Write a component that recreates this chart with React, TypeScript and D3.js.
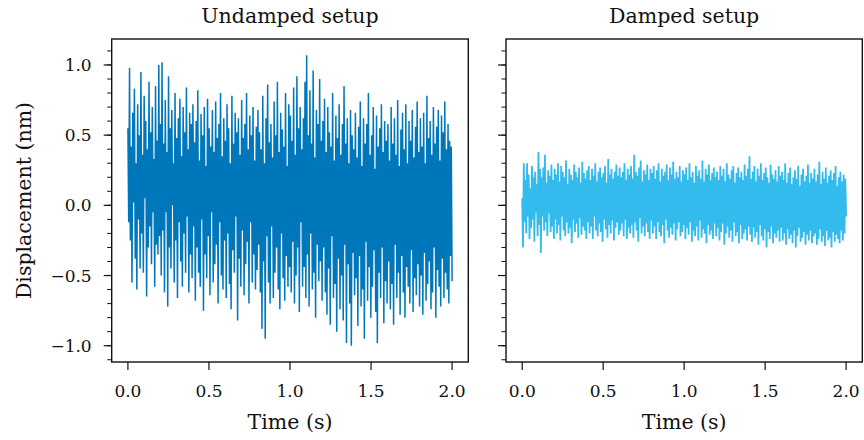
import React from 'react';
import * as d3 from 'd3';

// displacement traces (nm), sampled evenly over 0–2 s
const undamped = [
  0.55, -0.12, 0.98, -0.25, 0.42, -0.55, 0.66, 0.02, 0.83, -0.38, 0.30, -0.60, 0.72, -0.10, 0.50, -0.45, 0.95, -0.20, 0.36, -0.48, 0.78, 0.05, 0.60, -0.65, 0.40, -0.30, 0.88, -0.15, 0.52, -0.42, 0.70, -0.05, 0.33, -0.58, 0.85, -0.28, 0.46, -0.35, 1.00, -0.22,
  0.58, -0.50, 1.02, -0.18, 0.44, -0.62, 0.75, -0.05, 0.38, -0.72, 0.92, -0.30, 0.55, -0.45, 0.68, 0.00, 0.30, -0.55, 0.80, -0.25, 0.48, -0.66, 0.62, -0.12, 0.76, -0.40, 0.35, -0.58, 0.70, -0.20, 0.52, -0.48, 0.84, -0.08, 0.40, -0.62, 0.66, -0.35, 0.58, -0.52,
  0.72, -0.15, 0.45, -0.68, 0.60, -0.30, 0.82, -0.48, 0.32, -0.58, 0.65, -0.10, 0.50, -0.75, 0.70, -0.35, 0.28, -0.52, 0.76, -0.22, 0.55, -0.64, 0.42, -0.05, 0.68, -0.55, 0.38, -0.42, 0.74, -0.28, 0.48, -0.70, 0.58, -0.12, 0.80, -0.50, 0.35, -0.60, 0.62, -0.25,
  0.46, -0.66, 0.72, -0.20, 0.55, -0.56, 0.30, -0.74, 0.78, -0.32, 0.44, -0.48, 0.66, -0.08, 0.52, -0.82, 0.62, -0.38, 0.36, -0.58, 0.75, -0.18, 0.48, -0.64, 0.58, -0.42, 0.80, -0.26, 0.40, -0.70, 0.64, -0.12, 0.50, -0.55, 0.70, -0.35, 0.32, -0.60, 0.56, -0.46,
  0.68, -0.28, 0.52, -0.62, 0.40, -0.88, 0.78, -0.40, 0.30, -0.95, 0.62, -0.22, 0.86, -0.55, 0.45, -0.70, 0.58, -0.15, 0.34, -0.66, 0.74, -0.48, 0.50, -0.30, 0.88, -0.60, 0.38, -0.74, 0.66, -0.20, 0.54, -0.52, 0.42, -0.68, 0.80, -0.36, 0.28, -0.58, 0.72, -0.44,
  0.64, -0.62, 0.46, -0.26, 0.84, -0.70, 0.36, -0.50, 0.92, -0.30, 0.55, -0.76, 0.70, -0.12, 0.40, -0.58, 0.62, -0.44, 0.88, -0.66, 1.07, -0.35, 0.50, -0.72, 0.82, -0.20, 0.44, -0.60, 0.96, -0.48, 0.34, -0.80, 0.68, -0.28, 0.58, -0.54, 0.90, -0.40, 0.46, -0.68,
  0.60, -0.30, 0.76, -0.62, 0.38, -0.78, 0.70, -0.45, 0.52, -0.85, 0.42, -0.22, 0.80, -0.66, 0.32, -0.56, 0.64, -0.90, 0.48, -0.38, 0.72, -0.74, 0.36, -0.50, 0.58, -0.82, 0.85, -0.28, 0.44, -0.98, 0.62, -0.42, 0.30, -0.70, 0.68, -1.00, 0.50, -0.34, 0.40, -0.64,
  0.66, -0.52, 0.34, -0.86, 0.56, -0.36, 0.74, -0.72, 0.28, -0.60, 0.62, -0.95, 0.44, -0.26, 0.58, -0.68, 0.80, -0.44, 0.36, -0.80, 0.50, -0.58, 0.70, -0.32, 0.26, -0.76, 0.64, -0.98, 0.42, -0.48, 0.55, -0.66, 0.72, -0.30, 0.38, -0.84, 0.60, -0.54, 0.46, -0.70,
  0.58, -0.40, 0.32, -0.74, 0.70, -0.56, 0.44, -0.85, 0.62, -0.28, 0.36, -0.66, 0.75, -0.48, 0.28, -0.78, 0.54, -0.36, 0.66, -0.62, 0.40, -0.80, 0.72, -0.44, 0.30, -0.58, 0.60, -0.70, 0.46, -0.32, 0.68, -0.76, 0.34, -0.52, 0.56, -0.64, 0.74, -0.42, 0.38, -0.72,
  0.62, -0.50, 0.42, -0.78, 0.66, -0.34, 0.30, -0.68, 0.78, -0.56, 0.48, -0.40, 0.60, -0.74, 0.36, -0.62, 0.70, -0.30, 0.44, -0.80, 0.56, -0.46, 0.68, -0.58, 0.32, -0.72, 0.64, -0.38, 0.52, -0.66, 0.74, -0.48, 0.40, -0.60, 0.58, -0.70, 0.46, -0.36, 0.42, -0.54,
];

const damped = [
  0.05, -0.30, 0.30, -0.12, 0.18, -0.20, 0.30, -0.08, 0.22, -0.24, 0.12, -0.16, 0.28, -0.10, 0.20, -0.26, 0.24, -0.05, 0.15, -0.22, 0.38, -0.14, 0.26, -0.34, 0.20, -0.08, 0.27, -0.18, 0.36, -0.12, 0.16, -0.22, 0.25, -0.06, 0.21, -0.19, 0.29, -0.15, 0.18, -0.24,
  0.26, -0.10, 0.22, -0.20, 0.30, -0.14, 0.17, -0.25, 0.28, -0.08, 0.24, -0.18, 0.20, -0.22, 0.32, -0.12, 0.15, -0.20, 0.26, -0.16, 0.22, -0.27, 0.18, -0.10, 0.29, -0.19, 0.24, -0.13, 0.20, -0.23, 0.27, -0.09, 0.16, -0.21, 0.31, -0.15, 0.23, -0.18, 0.19, -0.24,
  0.25, -0.12, 0.28, -0.20, 0.18, -0.15, 0.26, -0.24, 0.21, -0.08, 0.30, -0.18, 0.17, -0.22, 0.24, -0.13, 0.27, -0.19, 0.20, -0.26, 0.23, -0.10, 0.28, -0.17, 0.16, -0.23, 0.33, -0.14, 0.22, -0.20, 0.26, -0.11, 0.19, -0.25, 0.24, -0.16, 0.29, -0.12, 0.21, -0.21,
  0.27, -0.18, 0.20, -0.13, 0.24, -0.22, 0.30, -0.10, 0.18, -0.24, 0.26, -0.16, 0.22, -0.20, 0.28, -0.14, 0.19, -0.23, 0.36, -0.12, 0.24, -0.18, 0.21, -0.26, 0.27, -0.09, 0.32, -0.20, 0.17, -0.15, 0.25, -0.22, 0.22, -0.13, 0.29, -0.19, 0.18, -0.24, 0.26, -0.11,
  0.23, -0.20, 0.28, -0.15, 0.19, -0.24, 0.25, -0.12, 0.30, -0.19, 0.17, -0.22, 0.26, -0.14, 0.21, -0.27, 0.24, -0.10, 0.29, -0.18, 0.18, -0.23, 0.27, -0.16, 0.22, -0.21, 0.31, -0.13, 0.19, -0.25, 0.24, -0.17, 0.20, -0.12, 0.28, -0.22, 0.17, -0.19, 0.25, -0.14,
  0.22, -0.24, 0.27, -0.16, 0.18, -0.21, 0.30, -0.12, 0.20, -0.26, 0.24, -0.18, 0.16, -0.22, 0.28, -0.15, 0.21, -0.25, 0.25, -0.11, 0.19, -0.23, 0.32, -0.17, 0.17, -0.20, 0.26, -0.27, 0.22, -0.14, 0.29, -0.21, 0.18, -0.18, 0.23, -0.24, 0.27, -0.13, 0.20, -0.22,
  0.24, -0.16, 0.18, -0.25, 0.28, -0.19, 0.21, -0.13, 0.26, -0.28, 0.17, -0.20, 0.30, -0.15, 0.22, -0.23, 0.19, -0.18, 0.25, -0.26, 0.28, -0.12, 0.16, -0.22, 0.23, -0.19, 0.27, -0.27, 0.20, -0.14, 0.24, -0.24, 0.18, -0.20, 0.29, -0.17, 0.21, -0.25, 0.26, -0.15,
  0.35, -0.21, 0.19, -0.26, 0.24, -0.16, 0.28, -0.23, 0.17, -0.19, 0.26, -0.28, 0.21, -0.14, 0.30, -0.22, 0.18, -0.25, 0.23, -0.17, 0.27, -0.30, 0.20, -0.19, 0.16, -0.24, 0.29, -0.15, 0.22, -0.27, 0.19, -0.20, 0.25, -0.23, 0.17, -0.18, 0.28, -0.26, 0.21, -0.16,
  0.24, -0.25, 0.18, -0.20, 0.30, -0.28, 0.16, -0.17, 0.23, -0.24, 0.27, -0.21, 0.15, -0.27, 0.20, -0.18, 0.25, -0.30, 0.19, -0.22, 0.28, -0.16, 0.14, -0.26, 0.22, -0.23, 0.26, -0.19, 0.17, -0.28, 0.21, -0.21, 0.29, -0.25, 0.16, -0.18, 0.23, -0.27, 0.19, -0.22,
  0.26, -0.20, 0.17, -0.28, 0.22, -0.24, 0.31, -0.17, 0.15, -0.26, 0.24, -0.22, 0.19, -0.29, 0.27, -0.18, 0.16, -0.25, 0.21, -0.23, 0.25, -0.30, 0.18, -0.19, 0.23, -0.26, 0.28, -0.21, 0.14, -0.24, 0.20, -0.27, 0.24, -0.18, 0.17, -0.25, 0.22, -0.20, 0.19, -0.08,
];

const duration = 2.0;
const xTicks = [0, 0.5, 1.0, 1.5, 2.0];
const yTicks = [-1.0, -0.5, 0.0, 0.5, 1.0];
const yMinor = d3.range(-11, 12).map(d => d / 10);
const titles = ['Undamped setup', 'Damped setup'];

const font = '"DejaVu Serif", serif';
const top = 39;
const bottom = 362;

const fmt = (v: number) => d3.format('.1f')(v).replace('-', '\u2212');

function Panel({ x0, x1, values, color, title, labels, lw }: {
  x0: number; x1: number; values: number[]; color: string; title: string; labels: boolean; lw: number;
}) {
  const x = d3.scaleLinear().domain([-0.1, 2.1]).range([x0, x1]);
  const y = d3.scaleLinear().domain([-1.116, 1.185]).range([bottom, top]);
  const dt = duration / (values.length - 1);
  const line = d3.line<number>()
    .x((_, i) => x(i * dt))
    .y(d => y(d));

  return (
    <g>
      <path d={line(values) ?? ''} fill="none" stroke={color} strokeWidth={lw} strokeLinejoin="bevel" />
      <rect x={x0} y={top} width={x1 - x0} height={bottom - top} fill="none" stroke="#111" strokeWidth={1.4} />
      {yMinor.map(t => (
        <line key={'m' + t} x1={x0} x2={x0 - 4.5} y1={y(t)} y2={y(t)} stroke="#111" strokeWidth={1} />
      ))}
      {yTicks.map(t => (
        <g key={'y' + t}>
          <line x1={x0} x2={x0 - 8} y1={y(t)} y2={y(t)} stroke="#111" strokeWidth={1.2} />
          {labels && (
            <text x={x0 - 20} y={y(t)} dy="0.36em" textAnchor="end" fontSize={17} fontFamily={font} fill="#111">
              {fmt(t)}
            </text>
          )}
        </g>
      ))}
      {xTicks.map(t => (
        <g key={'x' + t}>
          <line x1={x(t)} x2={x(t)} y1={bottom} y2={bottom + 8} stroke="#111" strokeWidth={1.2} />
          <text x={x(t)} y={396.5} textAnchor="middle" fontSize={17} fontFamily={font} fill="#111">
            {fmt(t)}
          </text>
        </g>
      ))}
      <text x={(x0 + x1) / 2} y={22.7} textAnchor="middle" fontSize={20.5} fontFamily={font} fill="#111">
        {title}
      </text>
      <text x={(x0 + x1) / 2} y={429} textAnchor="middle" fontSize={20.5} fontFamily={font} fill="#111">
        Time (s)
      </text>
    </g>
  );
}

export default function App() {
  return (
    <div style={{ position: 'absolute', left: 0, top: 0 }}>
      <svg width={864} height={440} style={{ display: 'block', background: '#fff' }}>
        <Panel x0={111.7} x1={468.3} values={undamped} color="#0077BB" title={titles[0]} labels lw={1.5} />
        <Panel x0={506} x1={862.3} values={damped} color="#33BBEE" title={titles[1]} labels={false} lw={1.8} />
        <text
          transform={`translate(31,${(top + bottom) / 2}) rotate(-90)`}
          textAnchor="middle"
          fontSize={20.5}
          fontFamily={font}
          fill="#111"
        >
          Displacement (nm)
        </text>
      </svg>
    </div>
  );
}
